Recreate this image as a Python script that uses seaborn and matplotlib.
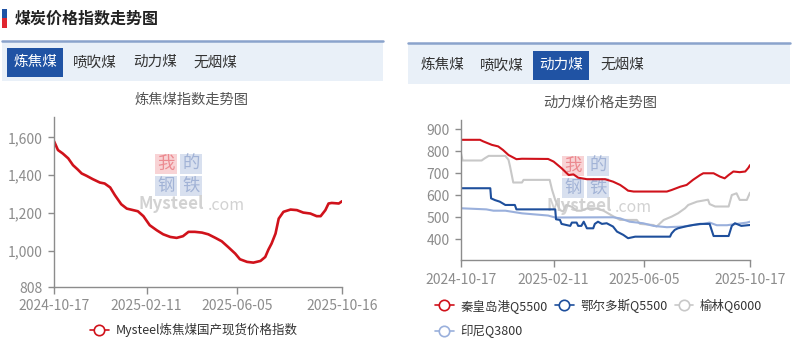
import pandas as pd
import seaborn as sns
import matplotlib.pyplot as plt
import matplotlib.dates as mdates
from matplotlib.patches import Rectangle
from matplotlib.lines import Line2D
from matplotlib.ticker import FuncFormatter

# ---- data (day offsets from 2024-10-17) ----
start = pd.Timestamp('2024-10-17')

coke_days = [0, 5, 11, 18, 24, 30, 35, 41, 49, 58, 64, 71, 77, 85, 92, 100, 106, 113, 121, 130,
             138, 147, 155, 163, 170, 178, 187, 195, 204, 212, 220, 229, 235, 244, 252, 261, 267,
             271, 275, 280, 284, 290, 299, 307, 315, 324, 332, 337, 343, 347, 351, 360, 364]
coke_vals = [1580, 1533, 1515, 1489, 1453, 1430, 1409, 1397, 1379, 1361, 1356, 1335, 1294, 1246,
             1223, 1215, 1209, 1183, 1135, 1108, 1087, 1073, 1068, 1077, 1100, 1100, 1096, 1087,
             1068, 1050, 1020, 985, 955, 941, 937, 946, 967, 1006, 1038, 1091, 1170, 1206, 1218,
             1215, 1202, 1197, 1183, 1183, 1215, 1250, 1253, 1250, 1262]

qhd_days = [0, 24, 28, 39, 47, 53, 60, 70, 77, 110, 117, 127, 136, 142, 148, 159, 182, 192, 201,
            207, 211, 218, 260, 266, 277, 285, 293, 302, 306, 319, 327, 333, 338, 344, 352, 359,
            363, 365]
qhd_vals = [852, 852, 845, 829, 822, 806, 783, 764, 766, 765, 753, 723, 692, 695, 680, 673, 673,
            662, 647, 632, 621, 617, 617, 624, 639, 647, 670, 692, 700, 700, 685, 677, 692, 708,
            705, 708, 725, 737]

eeds_days = [0, 37, 38, 43, 49, 56, 68, 70, 119, 120, 125, 127, 133, 138, 140, 146, 148, 152, 155,
             159, 167, 169, 173, 178, 184, 192, 197, 205, 211, 220, 264, 266, 270, 274, 283, 293,
             302, 314, 319, 338, 342, 346, 354, 365]
eeds_vals = [632, 632, 586, 578, 571, 556, 556, 536, 536, 491, 488, 470, 465, 461, 476, 476, 461,
             461, 480, 450, 450, 470, 480, 470, 473, 458, 435, 420, 405, 412, 412, 427, 443, 450,
             458, 465, 470, 470, 415, 415, 461, 473, 461, 465]

yl_days = [0, 2, 26, 30, 35, 56, 60, 62, 66, 77, 79, 112, 115, 119, 125, 129, 133, 140, 146, 152,
           159, 171, 180, 192, 201, 222, 226, 243, 247, 256, 266, 274, 283, 287, 298, 312, 314,
           321, 338, 342, 348, 352, 361, 365]
yl_vals = [790, 758, 758, 768, 779, 779, 761, 730, 658, 658, 670, 670, 625, 579, 533, 526, 556, 548,
           530, 530, 540, 540, 530, 505, 488, 488, 470, 465, 458, 488, 503, 518, 541, 556, 571,
           580, 560, 549, 549, 601, 609, 579, 579, 612]

yn_days = [0, 32, 41, 56, 77, 110, 119, 182, 192, 201, 213, 230, 243, 260, 281, 293, 306, 314,
           323, 336, 344, 361, 365]
yn_vals = [541, 536, 530, 530, 518, 508, 499, 500, 500, 495, 480, 473, 461, 455, 458, 465, 470,
           476, 464, 464, 468, 476, 480]

tabs = ['炼焦煤', '喷吹煤', '动力煤', '无烟煤']
left_ticks = ['2024-10-17', '2025-02-11', '2025-06-05', '2025-10-16']
right_ticks = ['2024-10-17', '2025-02-11', '2025-06-05', '2025-10-17']
coke_label = 'Mysteel炼焦煤国产现货价格指数'
thermal_labels = ['秦皇岛港Q5500', '鄂尔多斯Q5500', '榆林Q6000', '印尼Q3800']

RED = '#d0121b'
DBLUE = '#1e4f9c'
GREY = '#c8c8c8'
LBLUE = '#9ab0dc'
TAB_BLUE = '#2053a4'

sns.set_theme(style='white')
plt.rcParams['font.family'] = ['Noto Sans CJK SC', 'DejaVu Sans']

W, H = 795, 354
fig = plt.figure(figsize=(W / 100, H / 100), dpi=100)


def rect(x0, y0, x1, y1, color, z=1):
    fig.add_artist(Rectangle((x0 / W, 1 - y1 / H), (x1 - x0) / W, (y1 - y0) / H,
                             transform=fig.transFigure, facecolor=color, edgecolor='none', zorder=z))


def txt(x, y, s, **kw):
    fig.text(x / W, 1 - y / H, s, **kw)


def to_df(days, vals):
    return pd.DataFrame({'date': start + pd.to_timedelta(days, unit='D'), 'value': vals})


# ---- header ----
rect(2, 9, 7, 18, '#2053a4')
rect(2, 18, 7, 28, '#e0262f')
txt(15, 19, '煤炭价格指数走势图', fontsize=11.5, fontweight='bold', color='#222222',
    va='center', ha='left')

# tab bars
for (x0, x1, yl, yb, sel, centers) in [
        (2, 383, 40.5, 81, 0, [35, 95, 155, 215]),
        (408, 790, 43.3, 84, 2, [442, 502, 561, 622])]:
    fig.add_artist(Line2D([x0 / W, x1 / W], [1 - yl / H, 1 - yl / H], transform=fig.transFigure,
                          color='#8aa3cc', lw=1.8))
    rect(x0, yl + 1, x1, yb, '#e9f0f8', z=0.5)
    yc = (yl + yb) / 2 + 1.5
    for i, (name, cx) in enumerate(zip(tabs, centers)):
        if i == sel:
            rect(cx - 28, yc - 14.5, cx + 28, yc + 14.5, TAB_BLUE)
            txt(cx, yc, name, fontsize=10.5, color='white', ha='center', va='center', zorder=3)
        else:
            txt(cx, yc, name, fontsize=10.5, color='#333333', ha='center', va='center')

txt(192, 99.5, '炼焦煤指数走势图', fontsize=10.3, color='#555555', ha='center', va='center')
txt(600, 102.5, '动力煤价格走势图', fontsize=10.3, color='#555555', ha='center', va='center')


# ---- watermark ----
def watermark(dx, dy):
    boxes = [(155, 154, '我', '#f8d3d5', '#ec8a90'), (180, 154, '的', '#d8e0ef', '#a2b3d6'),
             (155, 176, '钢', '#d8e0ef', '#a2b3d6'), (180, 176, '铁', '#d8e0ef', '#a2b3d6')]
    for bx, by, ch, bg, fg in boxes:
        rect(bx + dx, by + dy, bx + dx + 22, by + dy + 20, bg, z=-1)
        txt(bx + dx + 11, by + dy + 10, ch, fontsize=12.5, color=fg, ha='center', va='center',
            zorder=-1)
    txt(139 + dx, 204 + dy, 'Mysteel', fontsize=12.3, color='#d2d2d2', ha='left', va='center',
        fontweight='bold', zorder=-1)
    txt(245 + dx, 205 + dy, '.com', fontsize=11.5, color='#d2d2d2', ha='right', va='center',
        zorder=-1)


watermark(0, 0)
watermark(407, 2)

# ---- axes ----
ax1 = fig.add_axes([54 / W, 1 - 287 / H, 288 / W, 170 / H])
ax2 = fig.add_axes([461 / W, 1 - 260 / H, 289 / W, 140 / H])

sns.lineplot(data=to_df(coke_days, coke_vals), x='date', y='value', ax=ax1, color=RED, lw=1.9,
             estimator=None)

for days, vals, c in [(yl_days, yl_vals, GREY), (yn_days, yn_vals, LBLUE),
                      (eeds_days, eeds_vals, DBLUE), (qhd_days, qhd_vals, RED)]:
    sns.lineplot(data=to_df(days, vals), x='date', y='value', ax=ax2, color=c, lw=1.5,
                 estimator=None)

for ax, ticks, ylim, yt in [(ax1, left_ticks, (808, 1708), [808, 1000, 1200, 1400, 1600]),
                            (ax2, right_ticks, (306, 942), [400, 500, 600, 700, 800, 900])]:
    ax.set_facecolor('none')
    tk = pd.to_datetime(ticks)
    ax.set_xlim(tk[0], tk[-1])
    ax.set_xticks(tk)
    ax.xaxis.set_major_formatter(mdates.DateFormatter('%Y-%m-%d'))
    ax.set_ylim(*ylim)
    ax.set_yticks(yt)
    ax.yaxis.set_major_formatter(FuncFormatter(lambda v, p: f'{int(v):,}'))
    ax.set_xlabel('')
    ax.set_ylabel('')
    for s in ['top', 'right']:
        ax.spines[s].set_visible(False)
    for s in ['left', 'bottom']:
        ax.spines[s].set_color('#8c8c8c')
        ax.spines[s].set_linewidth(1)
    ax.tick_params(axis='x', colors='#8c8c8c', labelcolor='#8c8c8c', length=5, width=1,
                   direction='out', labelsize=10, pad=4, bottom=True)
    ax.tick_params(axis='y', colors='#8c8c8c', labelcolor='#8c8c8c', length=4, width=1,
                   direction='out', labelsize=10, pad=4, left=True)
    ax.grid(False)


# ---- legends ----
def handle(c):
    return Line2D([], [], color=c, lw=1.2, marker='o', markersize=7.5, markerfacecolor='white',
                  markeredgecolor=c, markeredgewidth=1.2)


fig.legend([handle(RED)], [coke_label], loc='center left', bbox_to_anchor=(90 / W, 1 - 330 / H),
           frameon=False, fontsize=9, handlelength=1.5, handletextpad=0.55, borderpad=0,
           borderaxespad=0, labelcolor='#333333')

fig.legend([handle(RED), handle(LBLUE), handle(DBLUE), handle(GREY)],
           [thermal_labels[0], thermal_labels[3], thermal_labels[1], thermal_labels[2]],
           ncol=3, loc='center left', bbox_to_anchor=(435 / W, 1 - 318.5 / H), frameon=False,
           fontsize=9, handlelength=1.5, handletextpad=0.55, columnspacing=0.55,
           labelspacing=0.95, borderpad=0, borderaxespad=0, labelcolor='#333333')

fig.savefig('out.png', dpi=100)
